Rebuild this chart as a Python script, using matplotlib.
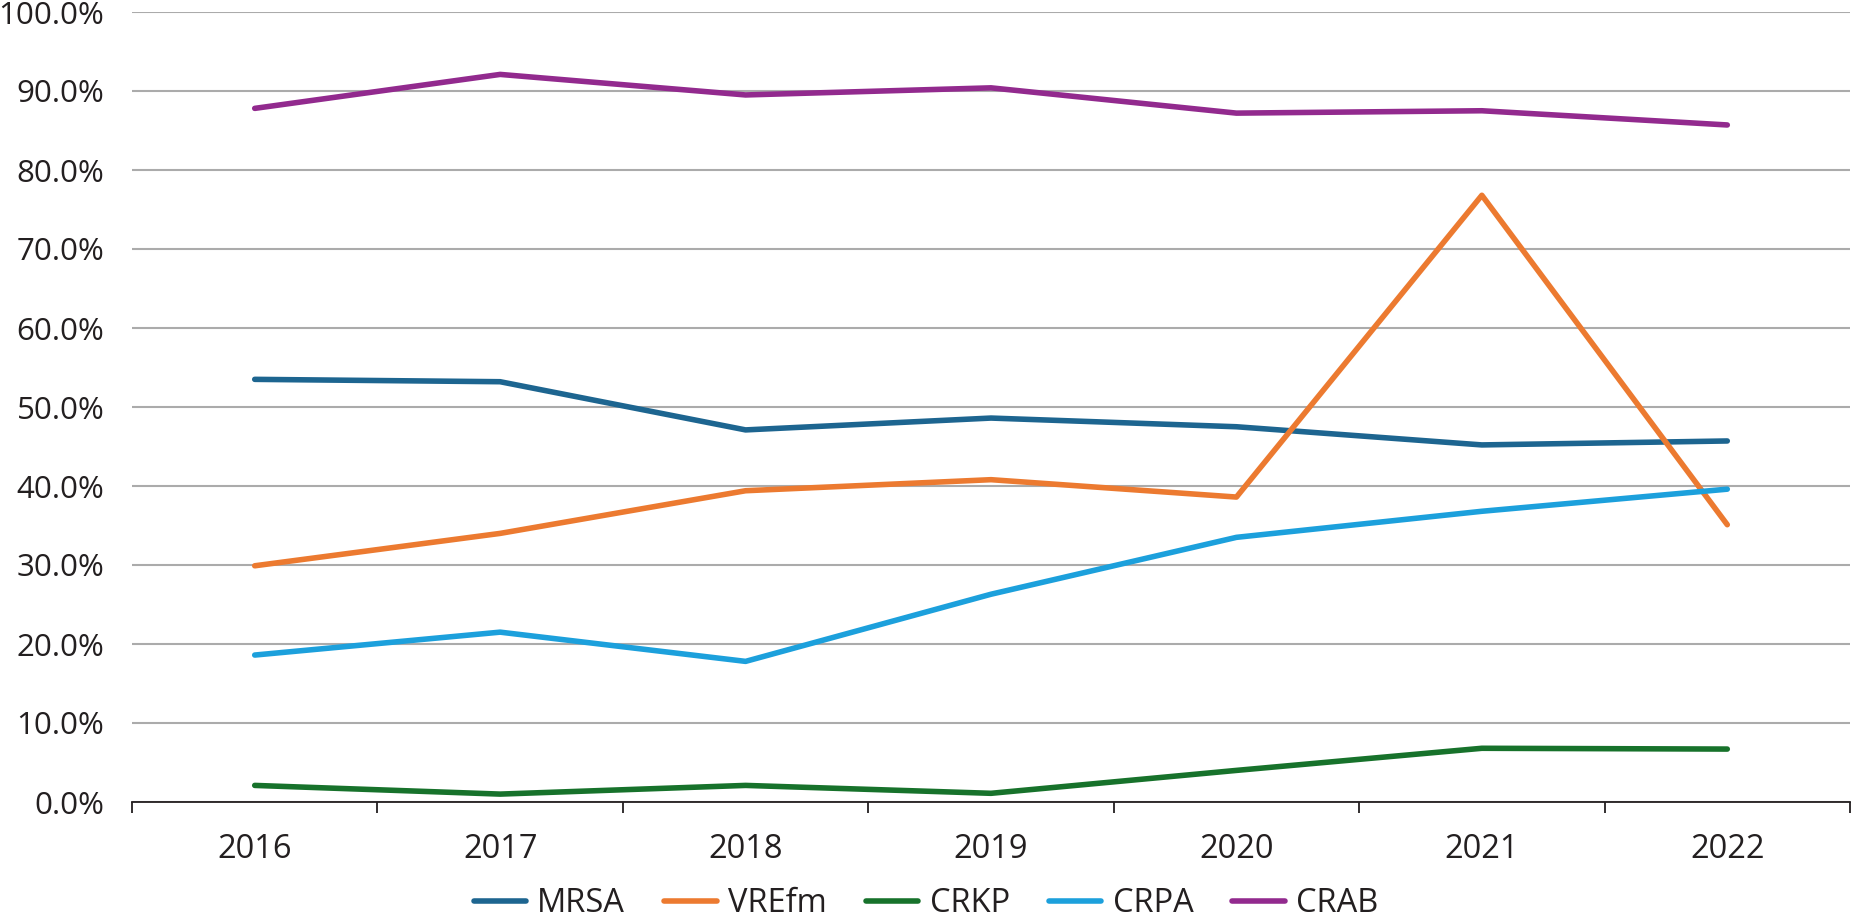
import matplotlib
matplotlib.use("Agg")
import matplotlib.pyplot as plt
from matplotlib.ticker import FixedLocator, FuncFormatter

plt.rcParams["font.family"] = ["Open Sans", "DejaVu Sans"]

years = ["2016", "2017", "2018", "2019", "2020", "2021", "2022"]
mrsa = [53.5, 53.2, 47.1, 48.6, 47.5, 45.2, 45.7]
vrefm = [29.9, 34.0, 39.4, 40.8, 38.6, 76.8, 35.1]
crkp = [2.1, 1.0, 2.1, 1.1, 4.0, 6.8, 6.7]
crpa = [18.6, 21.5, 17.8, 26.3, 33.5, 36.8, 39.6]
crab = [87.8, 92.1, 89.5, 90.4, 87.2, 87.5, 85.7]

series = [
    ("MRSA", mrsa, "#1d6590"),
    ("VREfm", vrefm, "#ec7a30"),
    ("CRKP", crkp, "#17722b"),
    ("CRPA", crpa, "#1ca0dc"),
    ("CRAB", crab, "#922a8e"),
]

fig = plt.figure(figsize=(18.52, 9.19), dpi=100)
ax = fig.add_axes([132 / 1852, 1 - 802 / 919, 1718 / 1852, 790 / 919])

x = range(len(years))
for name, vals, col in series:
    ax.plot(x, vals, color=col, lw=4.0, label=name, solid_capstyle="round", zorder=3)

ax.set_xlim(-0.5, len(years) - 0.5)
ax.set_ylim(0, 100)
ax.set_yticks(range(0, 101, 10))
ax.yaxis.set_major_formatter(FuncFormatter(lambda v, p: f"{v:.1f}%"))
ax.grid(axis="y", color="#ababab", lw=1.5, zorder=0)

ax.set_xticks(list(x))
ax.set_xticklabels(years)
ax.xaxis.set_minor_locator(FixedLocator([i - 0.5 for i in range(len(years) + 1)]))
ax.tick_params(axis="x", which="major", length=0, pad=22, labelsize=23.5, colors="#231f20")
ax.tick_params(axis="x", which="minor", length=8, width=1.3, color="#231f20")
ax.tick_params(axis="y", length=0, pad=20, labelsize=22.5, colors="#231f20")

for s in ["top", "right", "left"]:
    ax.spines[s].set_visible(False)
ax.spines["bottom"].set_color("#231f20")
ax.spines["bottom"].set_linewidth(1.3)
ax.spines["bottom"].set_zorder(4)

fig.legend(loc="center", bbox_to_anchor=(0.5, 1 - 904 / 919), ncol=5, frameon=False,
           fontsize=23.5, handlelength=1.6, handletextpad=0.35, columnspacing=1.2,
           labelcolor="#231f20")

fig.savefig("out.png", dpi=100)
